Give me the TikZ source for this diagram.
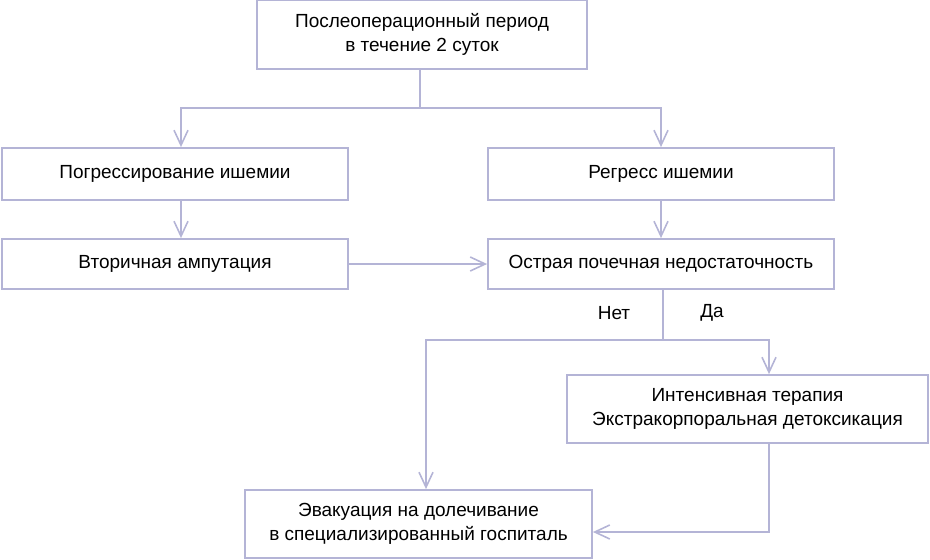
\documentclass[tikz,border=0pt]{standalone}
\usepackage{fontspec}
\setmainfont{Liberation Sans}
\usepackage{xcolor}
\usepackage{tikz}
\usetikzlibrary{arrows.meta, positioning}
\definecolor{linelav}{RGB}{180,180,214}

\begin{document}
\begin{tikzpicture}[
    x=1pt, y=-1pt,
    box/.style={draw=linelav, line width=1.8pt, align=center, inner sep=0pt,
                font=\fontsize{19}{24}\selectfont},
    arrow/.style={-{Straight Barb[length=15pt, width=14pt, line width=1.6pt]}, draw=linelav, line width=1.8pt},
    link/.style={draw=linelav, line width=1.8pt},
    answer/.style={font=\fontsize{19}{24}\selectfont}
]
    \useasboundingbox (0,0) rectangle (930,560);

    \node[box, minimum width=330pt, minimum height=69pt] (postop) at (422,34.5) {Послеоперационный период\\в течение 2 суток};
    \node[box, minimum width=346pt, minimum height=52pt] (progr)  at (175,174)  {Погрессирование ишемии};
    \node[box, minimum width=346pt, minimum height=52pt] (regr)   at (661,174)  {Регресс ишемии};
    \node[box, minimum width=346pt, minimum height=50pt] (amput)  at (175,264)  {Вторичная ампутация};
    \node[box, minimum width=346pt, minimum height=50pt] (renal)  at (661,264)  {Острая почечная недостаточность};
    \node[box, minimum width=361pt, minimum height=68pt] (icu)    at (747.5,409) {Интенсивная терапия\\Экстракорпоральная детоксикация};
    \node[box, minimum width=347pt, minimum height=68pt] (evac)   at (418.5,524) {Эвакуация на долечивание\\в специализированный госпиталь};

    \node[answer] (no)  at (614,313) {Нет};
    \node[answer] (yes) at (712,313) {Да};

    \coordinate (split) at (420,108);
    \coordinate (fork)  at (663,340);

    \draw[link]  (postop.south -| split) -- (split);
    \draw[arrow] (split) -| ([xshift=6pt]progr.north);
    \draw[arrow] (split) -| (regr.north);
    \draw[arrow] ([xshift=6pt]progr.south) -- ([xshift=6pt]amput.north);
    \draw[arrow] (regr) -- (renal);
    \draw[arrow] (amput) -- (renal);

    \draw[link]  (renal.south -| fork) -- (fork);
    \draw[arrow] (fork) -| ([xshift=7.5pt]evac.north);
    \draw[arrow] (fork) -| ([xshift=21.5pt]icu.north);
    \draw[arrow] ([xshift=21.5pt]icu.south) |- ([yshift=-8pt]evac.east);
\end{tikzpicture}
\end{document}
